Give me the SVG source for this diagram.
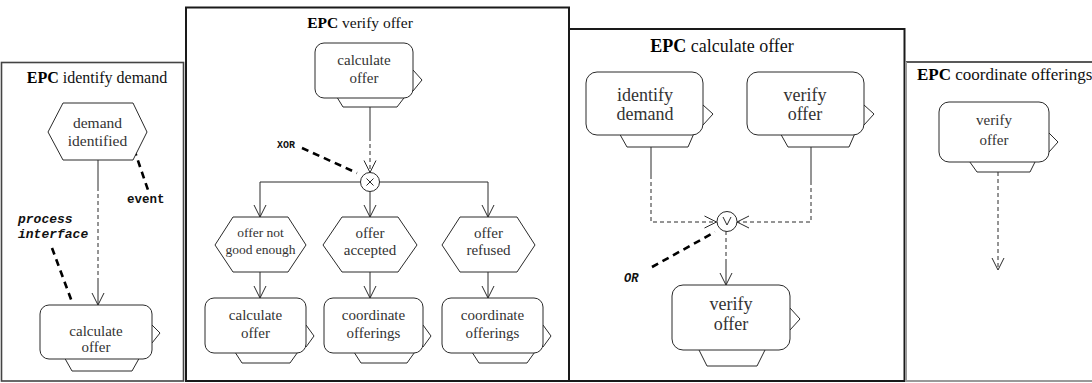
<svg xmlns="http://www.w3.org/2000/svg" width="1092" height="383" viewBox="0 0 1092 383">
<style>
.frame{fill:none;stroke:#1a1a1a;stroke-width:1.6}
.fn{fill:#fff;stroke:#2a2a2a;stroke-width:1}
.ev{fill:#fff;stroke:#2a2a2a;stroke-width:1}
.tab{fill:#fff;stroke:#2a2a2a;stroke-width:1}
.flag{fill:none;stroke:#2a2a2a;stroke-width:1}
.t{font-family:"Liberation Serif","Times New Roman",serif;fill:#333;text-anchor:middle}
.title{font-family:"Liberation Serif","Times New Roman",serif;fill:#111;text-anchor:middle}
.b{font-weight:bold;fill:#000}
.lbl{font-family:"Liberation Mono","Courier New",monospace;font-weight:bold;fill:#111}
.sol{fill:none;stroke:#2a2a2a;stroke-width:1}
.das{fill:none;stroke:#2a2a2a;stroke-width:1;stroke-dasharray:4 3}
.ann{fill:none;stroke:#000;stroke-width:2.6;stroke-dasharray:7 5}
.gate{fill:#fff;stroke:#2a2a2a;stroke-width:1}
</style>
<defs>
<marker id="arr" markerUnits="userSpaceOnUse" markerWidth="16" markerHeight="16" refX="12" refY="6" orient="auto" overflow="visible">
<path d="M0,0 L12,6 L0,12" fill="none" stroke="#2a2a2a" stroke-width="1" stroke-dasharray="none"/>
</marker>
</defs>
<rect width="1092" height="383" fill="#fff"/>

<!-- frames -->
<g id="frames">
<rect class="frame" x="1.5" y="62.5" width="182" height="318.5" style="stroke:#444"/>
<rect class="frame" x="186" y="7.5" width="383" height="373.5" style="stroke-width:2"/>
<rect class="frame" x="569" y="29" width="335.5" height="352" style="stroke-width:2"/>
<path d="M906,62 H1092" fill="none" stroke="#222" stroke-width="1.3"/>
<path d="M906,62 V381 H1092" fill="none" stroke="#999" stroke-width="2"/>
</g>

<!-- titles -->
<text class="title" x="97" y="83" font-size="16"><tspan class="b">EPC</tspan> identify demand</text>
<text class="title" x="360" y="28" font-size="15.5"><tspan class="b">EPC</tspan> verify offer</text>
<text class="title" x="722" y="52" font-size="18"><tspan class="b">EPC</tspan> calculate offer</text>
<text class="title" x="917" y="80" font-size="17" style="text-anchor:start"><tspan class="b">EPC</tspan> coordinate offerings</text>

<!-- connectors -->
<g id="connectors">
<!-- panel 1 -->
<path class="sol" d="M98,160 V187"/>
<path class="das" d="M98,187 V280"/>
<path class="sol" d="M98,280 V305" marker-end="url(#arr)"/>
<path class="ann" d="M134,149 L148,190"/>
<path class="ann" d="M52,248 L72,302"/>
<!-- panel 2 -->
<path class="sol" d="M370,107 V137"/>
<path class="das" d="M370,137 V172.5" marker-end="url(#arr)"/>
<path class="ann" d="M302,148 L357,173"/>
<path class="sol" d="M360.5,182 H260 V217" marker-end="url(#arr)"/>
<path class="sol" d="M370,191.5 V217" marker-end="url(#arr)"/>
<path class="sol" d="M379.5,182 H488 V217" marker-end="url(#arr)"/>
<path class="sol" d="M260,272 V298" marker-end="url(#arr)"/>
<path class="sol" d="M370,272 V298" marker-end="url(#arr)"/>
<path class="sol" d="M488,272 V298" marker-end="url(#arr)"/>
<!-- panel 3 -->
<path class="sol" d="M651,147 V175"/>
<path class="das" d="M651,175 V222 H716.5" marker-end="url(#arr)"/>
<path class="sol" d="M811,147 V181"/>
<path class="das" d="M811,181 V222 H737" marker-end="url(#arr)"/>
<path class="das" d="M726,231 V262"/>
<path class="sol" d="M726,262 V285" marker-end="url(#arr)"/>
<path class="ann" d="M652,267 L715,232"/>
<!-- panel 4 -->
<path class="das" d="M998,172 V270" marker-end="url(#arr)"/>
</g>

<!-- labels -->
<text class="lbl" x="127" y="203" font-size="12.5">event</text>
<text class="lbl" x="18" y="223" font-size="13" font-style="italic">process</text>
<text class="lbl" x="18" y="238" font-size="13" font-style="italic">interface</text>
<text class="lbl" x="277" y="148" font-size="10">XOR</text>
<text class="lbl" x="624" y="282" font-size="12" font-style="italic">OR</text>

<!-- panel 1 nodes -->
<g id="p1-demand-identified">
<polygon class="ev" points="48,132 63,103 133,103 147,132 133,160 63,160"/>
<text class="t" x="97.5" y="128" font-size="15.5">demand</text>
<text class="t" x="97.5" y="146" font-size="15.5">identified</text>
</g>
<g id="p1-calculate-offer">
<polygon class="tab" points="63,355 72,371 132,371 141,355"/>
<polyline class="flag" points="152,325 160,333 152,343"/>
<rect class="fn" x="40" y="305" width="112" height="54" rx="9"/>
<text class="t" x="96" y="336" font-size="15">calculate</text>
<text class="t" x="96" y="352" font-size="15">offer</text>
</g>

<!-- panel 2 nodes -->
<g id="p2-calculate-offer-top">
<polygon class="tab" points="335,94 343,107 397,107 407,94"/>
<polyline class="flag" points="413,70 422,80 413,91"/>
<rect class="fn" x="315" y="43" width="98" height="55" rx="9"/>
<text class="t" x="364" y="65" font-size="15">calculate</text>
<text class="t" x="364" y="83" font-size="15">offer</text>
</g>
<g id="p2-xor">
<circle class="gate" cx="370" cy="182" r="9.5"/>
<path class="sol" d="M366.5,178.5 L373.5,185.5 M373.5,178.5 L366.5,185.5"/>
</g>
<g id="p2-offer-not-good-enough">
<polygon class="ev" points="215,245 233,217 288,217 306,245 288,272 233,272"/>
<text class="t" x="260.5" y="237" font-size="13.5">offer not</text>
<text class="t" x="260.5" y="254" font-size="13.5">good enough</text>
</g>
<g id="p2-offer-accepted">
<polygon class="ev" points="323,245 342,217 398,217 417,245 398,272 342,272"/>
<text class="t" x="370" y="238" font-size="15">offer</text>
<text class="t" x="370" y="255" font-size="15">accepted</text>
</g>
<g id="p2-offer-refused">
<polygon class="ev" points="442,245 460,217 517,217 535,245 517,272 460,272"/>
<text class="t" x="488.5" y="238" font-size="15">offer</text>
<text class="t" x="488.5" y="255" font-size="15">refused</text>
</g>
<g id="p2-calculate-offer-bottom">
<polygon class="tab" points="233,349 242,363 290,363 300,349"/>
<polyline class="flag" points="306,325 314,336 306,347"/>
<rect class="fn" x="205" y="298" width="101" height="55" rx="9"/>
<text class="t" x="255.5" y="320" font-size="15">calculate</text>
<text class="t" x="255.5" y="338" font-size="15">offer</text>
</g>
<g id="p2-coordinate-offerings-1">
<polygon class="tab" points="352,349 361,363 407,363 417,349"/>
<polyline class="flag" points="423,325 431,336 423,347"/>
<rect class="fn" x="324" y="298" width="99" height="55" rx="9"/>
<text class="t" x="373.5" y="320" font-size="15">coordinate</text>
<text class="t" x="373.5" y="338" font-size="15">offerings</text>
</g>
<g id="p2-coordinate-offerings-2">
<polygon class="tab" points="470,349 479,363 527,363 537,349"/>
<polyline class="flag" points="543,325 551,336 543,347"/>
<rect class="fn" x="442" y="298" width="101" height="55" rx="9"/>
<text class="t" x="492.5" y="320" font-size="15">coordinate</text>
<text class="t" x="492.5" y="338" font-size="15">offerings</text>
</g>

<!-- panel 3 nodes -->
<g id="p3-identify-demand">
<polygon class="tab" points="618,131 627,147 688,147 695,131"/>
<polyline class="flag" points="703,105 713,114 703,125"/>
<rect class="fn" x="586" y="72" width="117" height="63" rx="11"/>
<text class="t" x="645" y="101" font-size="18">identify</text>
<text class="t" x="645" y="120" font-size="18">demand</text>
</g>
<g id="p3-verify-offer-top">
<polygon class="tab" points="779,131 788,147 849,147 856,131"/>
<polyline class="flag" points="864,105 874,114 864,125"/>
<rect class="fn" x="747" y="72" width="117" height="63" rx="11"/>
<text class="t" x="805" y="101" font-size="18">verify</text>
<text class="t" x="805" y="120" font-size="18">offer</text>
</g>
<g id="p3-or">
<circle class="gate" cx="727" cy="221.5" r="10"/>
<polyline class="sol" points="723,217 727,225 731,217"/>
</g>
<g id="p3-verify-offer-bottom">
<polygon class="tab" points="697,346 707,366 757,366 767,346"/>
<polyline class="flag" points="790,308 800,319 790,330"/>
<rect class="fn" x="672" y="285" width="118" height="65" rx="11"/>
<text class="t" x="731" y="310" font-size="18">verify</text>
<text class="t" x="731" y="330" font-size="18">offer</text>
</g>

<!-- panel 4 nodes -->
<g id="p4-verify-offer">
<polygon class="tab" points="967,158 977,172 1030,172 1037,158"/>
<polyline class="flag" points="1049,133 1058,142 1049,152"/>
<rect class="fn" x="939" y="102" width="110" height="60" rx="10"/>
<text class="t" x="994" y="125" font-size="15">verify</text>
<text class="t" x="994" y="145" font-size="15">offer</text>
</g>
</svg>
